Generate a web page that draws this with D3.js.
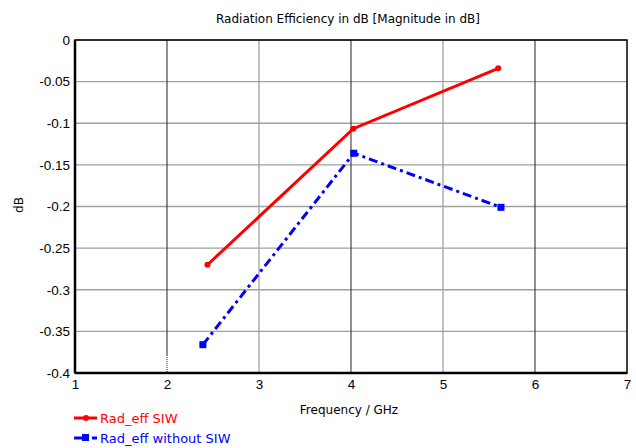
<!DOCTYPE html>
<html>
<head>
<meta charset="utf-8">
<script src="https://cdn.jsdelivr.net/npm/d3@7"></script>
<style>
  body { margin: 0; background: #fff; }
  svg { font-family: "DejaVu Sans", sans-serif; }
  .tick text { font-size: 13.5px; fill: #000; }
</style>
</head>
<body>
<script>
// Chart data
var xTicks = [1, 2, 3, 4, 5, 6, 7];
var yTicks = [0, -0.05, -0.1, -0.15, -0.2, -0.25, -0.3, -0.35, -0.4];
var yTickLabels = ["0", "-0.05", "-0.1", "-0.15", "-0.2", "-0.25", "-0.3", "-0.35", "-0.4"];
var freqSIW = [2.44, 4.025, 5.6];
var effSIW = [-0.27, -0.1065, -0.034];
var freqNoSIW = [2.39, 4.03, 5.63];
var effNoSIW = [-0.366, -0.136, -0.201];

var svgWidth = 636, svgHeight = 448;
var margin = { top: 40, right: 9, bottom: 75, left: 75 };
var width = svgWidth - margin.left - margin.right;
var height = svgHeight - margin.top - margin.bottom;

var svg = d3.select("body").append("svg")
  .attr("width", svgWidth)
  .attr("height", svgHeight);

var chartGroup = svg.append("g")
  .attr("transform", `translate(${margin.left}, ${margin.top})`);

var x = d3.scaleLinear().domain([1, 7]).range([0, width]);
var y = d3.scaleLinear().domain([-0.4, 0]).range([height, 0]);

// grid
chartGroup.selectAll(".hgrid")
  .data(yTicks)
  .enter().append("line")
  .attr("x1", 0).attr("x2", width)
  .attr("y1", d => y(d)).attr("y2", d => y(d))
  .attr("stroke", "#a0a0a0").attr("stroke-width", 1.3);

chartGroup.selectAll(".vgrid")
  .data(xTicks.slice(1, -1))
  .enter().append("line")
  .attr("x1", d => x(d)).attr("x2", d => x(d))
  .attr("y1", 0).attr("y2", d => d === 2 ? height - 18 : height)
  .attr("stroke", d => d % 2 === 0 ? "#222" : "#a0a0a0")
  .attr("stroke-width", d => d % 2 === 0 ? 1 : 1.3);

// dotted bit at x=2
chartGroup.append("line")
  .attr("x1", x(2)).attr("x2", x(2))
  .attr("y1", height - 18).attr("y2", height)
  .attr("stroke", "#222").attr("stroke-dasharray", "1,1");

// frame
chartGroup.append("rect")
  .attr("width", width).attr("height", height)
  .attr("fill", "none").attr("stroke", "#000").attr("stroke-width", 1.5);
chartGroup.append("line")
  .attr("x1", 0).attr("x2", 0).attr("y1", 0).attr("y2", height)
  .attr("stroke", "#000").attr("stroke-width", 2.5);
chartGroup.append("line")
  .attr("x1", 0).attr("x2", width).attr("y1", height).attr("y2", height)
  .attr("stroke", "#000").attr("stroke-width", 2.5);

// axes
var leftAxis = d3.axisLeft(y).tickValues(yTicks)
  .tickFormat((d, i) => yTickLabels[i]).tickSize(0).tickPadding(5);
var bottomAxis = d3.axisBottom(x).tickValues(xTicks)
  .tickFormat(d3.format("d")).tickSize(0).tickPadding(6);

chartGroup.append("g").call(leftAxis).call(g => g.select(".domain").remove());
chartGroup.append("g")
  .attr("transform", `translate(0, ${height})`)
  .call(bottomAxis).call(g => g.select(".domain").remove());

// lines
var dataSIW = freqSIW.map((f, i) => ({ f: f, v: effSIW[i] }));
var dataNoSIW = freqNoSIW.map((f, i) => ({ f: f, v: effNoSIW[i] }));

var line = d3.line().x(d => x(d.f)).y(d => y(d.v));

chartGroup.append("path")
  .datum(dataSIW)
  .attr("d", line)
  .attr("fill", "none").attr("stroke", "#ff0000").attr("stroke-width", 3);

chartGroup.selectAll(".ptSIW")
  .data(dataSIW)
  .enter().append("circle")
  .attr("cx", d => x(d.f)).attr("cy", d => y(d.v))
  .attr("r", 3).attr("fill", "#ff0000");

chartGroup.append("path")
  .datum(dataNoSIW)
  .attr("d", line)
  .attr("fill", "none").attr("stroke", "#0000ff").attr("stroke-width", 3)
  .attr("stroke-dasharray", "9,4,3,4");

chartGroup.selectAll(".ptNoSIW")
  .data(dataNoSIW)
  .enter().append("rect")
  .attr("x", d => x(d.f) - 3.5).attr("y", d => y(d.v) - 3.5)
  .attr("width", 7).attr("height", 7).attr("fill", "#0000ff");

// titles
svg.append("text")
  .attr("x", 348).attr("y", 23)
  .attr("text-anchor", "middle")
  .style("font-size", "12px")
  .text("Radiation Efficiency in dB [Magnitude in dB]");

svg.append("text")
  .attr("transform", "translate(23, 205) rotate(-90)")
  .attr("text-anchor", "middle")
  .style("font-size", "12px")
  .text("dB");

svg.append("text")
  .attr("x", 349).attr("y", 414)
  .attr("text-anchor", "middle")
  .style("font-size", "12px")
  .text("Frequency / GHz");

// legend
var legend = svg.append("g");
legend.append("line")
  .attr("x1", 74).attr("x2", 97).attr("y1", 418).attr("y2", 418)
  .attr("stroke", "#ff0000").attr("stroke-width", 3);
legend.append("circle")
  .attr("cx", 86).attr("cy", 418).attr("r", 3).attr("fill", "#ff0000");
legend.append("text")
  .attr("x", 100).attr("y", 423)
  .attr("fill", "#ff0000").style("font-size", "13px")
  .text("Rad_eff SIW");

legend.append("line")
  .attr("x1", 74).attr("x2", 97).attr("y1", 438).attr("y2", 438)
  .attr("stroke", "#0000ff").attr("stroke-width", 3)
  .attr("stroke-dasharray", "9,3,3,3");
legend.append("rect")
  .attr("x", 82).attr("y", 434).attr("width", 7).attr("height", 7).attr("fill", "#0000ff");
legend.append("text")
  .attr("x", 100).attr("y", 443)
  .attr("fill", "#0000ff").style("font-size", "13px")
  .text("Rad_eff without SIW");
</script>
</body>
</html>
